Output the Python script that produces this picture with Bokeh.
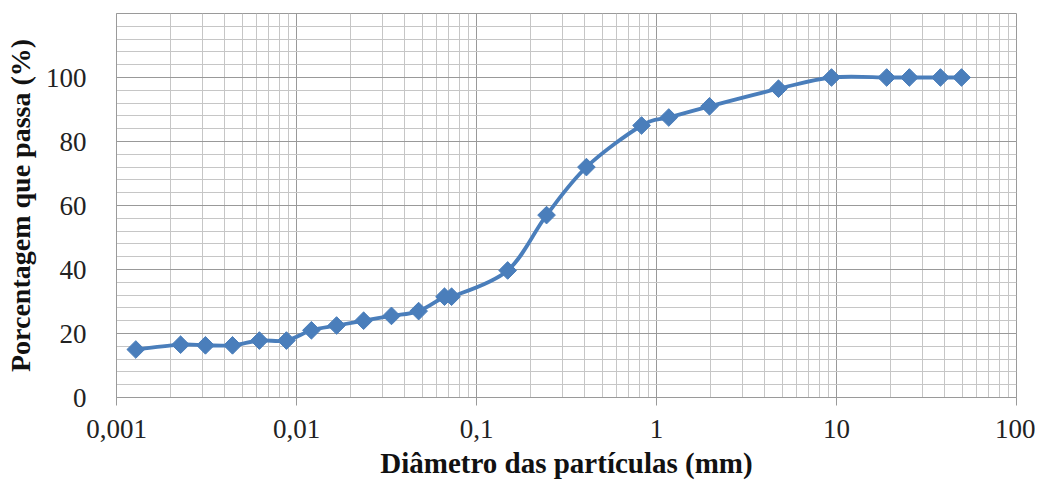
import numpy as np
from bokeh.plotting import figure
from bokeh.models import FixedTicker, ColumnDataSource
from bokeh.embed import file_html
from bokeh.resources import INLINE

# Data
diameter_mm = [0.00128, 0.00227, 0.00312, 0.00441, 0.00622, 0.00879, 0.0121, 0.0167,
               0.0236, 0.0337, 0.0477, 0.0664, 0.0727, 0.149, 0.245, 0.408, 0.826,
               1.17, 1.97, 4.76, 9.38, 19.0, 25.4, 37.8, 49.5]
percent_passing = [15.0, 16.5, 16.3, 16.3, 17.8, 17.8, 21.0, 22.5, 24.0, 25.5, 27.0,
                   31.5, 31.5, 39.7, 57.0, 72.0, 85.0, 87.5, 91.0, 96.5, 100.0, 100.0,
                   100.0, 100.0, 100.0]

x_ticks = [0.001, 0.01, 0.1, 1, 10, 100]
x_tick_labels = ["0,001", "0,01", "0,1", "1", "10", "100"]
y_ticks = [0, 20, 40, 60, 80, 100]

x_minor = [m * d for d in [0.001, 0.01, 0.1, 1, 10] for m in range(2, 10)]
y_minor = list(range(0, 121, 4))

p = figure(width=1035, height=485, x_axis_type="log", x_range=(0.001, 100), y_range=(0, 120),
           output_backend="svg", toolbar_location=None,
           min_border_left=116, min_border_top=13, min_border_right=19, min_border_bottom=88)
p.outline_line_color = "#9a9a9a"
p.outline_line_width = 1

# Axes
p.xaxis.ticker = FixedTicker(ticks=x_ticks, minor_ticks=x_minor)
p.xaxis.major_label_overrides = {t: l for t, l in zip(x_ticks, x_tick_labels)}
p.yaxis.ticker = FixedTicker(ticks=y_ticks, minor_ticks=y_minor)
for ax in (p.xaxis, p.yaxis):
    ax.major_label_text_font = "Liberation Serif"
    ax.major_label_text_font_size = "27px"
    ax.major_label_text_color = "#222222"
    ax.axis_label_text_font = "Liberation Serif"
    ax.axis_label_text_font_style = "bold"
    ax.axis_label_text_color = "#111111"
    ax.axis_line_color = "#9a9a9a"
    ax.minor_tick_line_color = None
    ax.major_tick_line_color = "#9a9a9a"
p.xaxis.axis_label_text_font_size = "29px"
p.yaxis.axis_label_text_font_size = "28px"
p.xaxis.major_tick_out = 8
p.xaxis.major_tick_in = 0
p.yaxis.major_tick_out = 0
p.yaxis.major_tick_in = 0
p.xaxis.major_label_standoff = 14
p.yaxis.major_label_standoff = 26
p.xaxis.axis_label = "Diâmetro das partículas (mm)"
p.yaxis.axis_label = "Porcentagem que passa (%)"
p.xaxis.axis_label_standoff = 6
p.yaxis.axis_label_standoff = 7

# Grids
p.xgrid.grid_line_color = "#999999"
p.xgrid.minor_grid_line_color = "#c6c6c6"
p.ygrid.grid_line_color = "#999999"
p.ygrid.minor_grid_line_color = "#c6c6c6"

# Smoothed curve (Catmull-Rom style bezier through the points, in log-x space)
lx = np.log10(np.array(diameter_mm))
yy = np.array(percent_passing)
n = len(lx)
t = 1.0 / 6.0
x0, y0, x1, y1, cx0, cy0, cx1, cy1 = [], [], [], [], [], [], [], []
for i in range(n - 1):
    pa = (lx[i - 1], yy[i - 1]) if i > 0 else (lx[i], yy[i])
    pb = (lx[i], yy[i])
    pc = (lx[i + 1], yy[i + 1])
    pd = (lx[i + 2], yy[i + 2]) if i + 2 < n else (lx[i + 1], yy[i + 1])
    c1 = (pb[0] + (pc[0] - pa[0]) * t, pb[1] + (pc[1] - pa[1]) * t)
    c2 = (pc[0] - (pd[0] - pb[0]) * t, pc[1] - (pd[1] - pb[1]) * t)
    x0.append(10 ** pb[0]); y0.append(pb[1])
    x1.append(10 ** pc[0]); y1.append(pc[1])
    cx0.append(10 ** c1[0]); cy0.append(c1[1])
    cx1.append(10 ** c2[0]); cy1.append(c2[1])

p.bezier(x0=x0, y0=y0, x1=x1, y1=y1, cx0=cx0, cy0=cy0, cx1=cx1, cy1=cy1,
         line_color="#4a7ebb", line_width=3.8)

src = ColumnDataSource(dict(x=diameter_mm, y=percent_passing))
p.scatter("x", "y", source=src, marker="square", angle=np.pi / 4, size=12.5,
          fill_color="#4a7ebb", line_color="#4a7ebb")

open("out.html", "w").write(file_html(p, INLINE))
